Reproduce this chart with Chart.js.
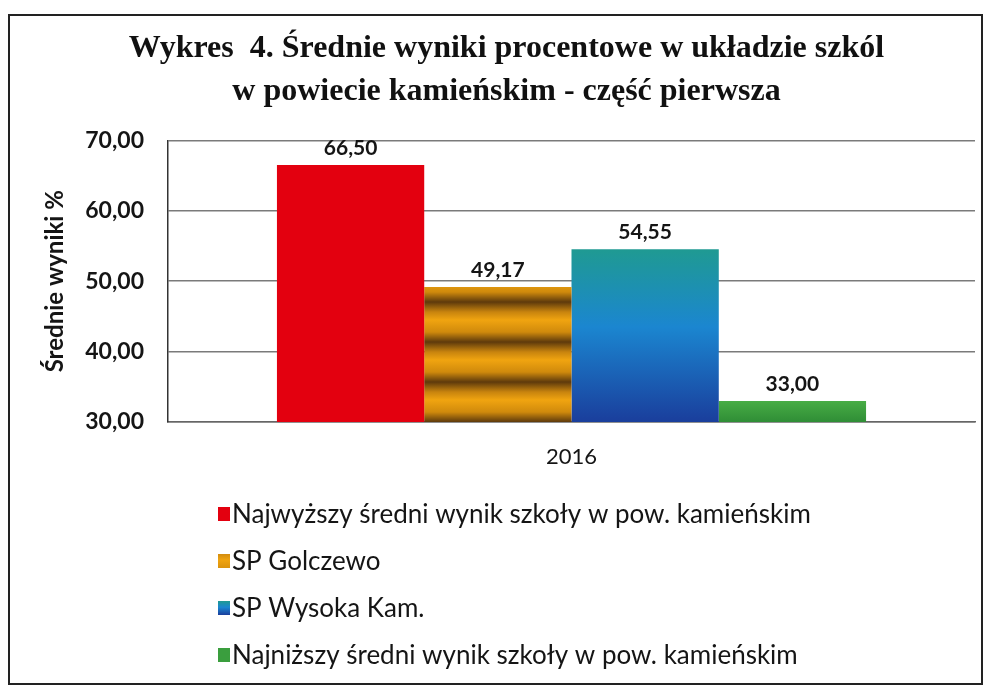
<!DOCTYPE html>
<html lang="pl">
<head>
<meta charset="utf-8">
<title>Wykres 4</title>
<script src="https://cdn.jsdelivr.net/npm/chart.js@4.4.1/dist/chart.umd.min.js"></script>
<style>
  html, body { margin: 0; padding: 0; background: #fff; }
  #wrap { position: relative; width: 993px; height: 691px; }
  #frame { position: absolute; left: 8px; top: 14px; width: 975px; height: 671px; border: 2px solid #222; box-sizing: border-box; pointer-events: none; }
  canvas { position: absolute; left: 0; top: 0; }
</style>
</head>
<body>
<div id="wrap">
  <canvas id="chart" width="993" height="691"></canvas>
  <div id="frame"></div>
</div>
<script>
// ── DATA ──
const categories = ['2016'];
const seriesNames = [
    'Najwyższy średni wynik szkoły w pow. kamieńskim',
    'SP Golczewo',
    'SP Wysoka Kam.',
    'Najniższy średni wynik szkoły w pow. kamieńskim'
];
const highestValues = [66.50];
const golczewoValues = [49.17];
const wysokaValues  = [54.55];
const lowestValues  = [33.00];
const yTicks = [30, 40, 50, 60, 70];

const fmt = v => v.toFixed(2).replace('.', ',');

// ── FILLS ──
function stripePattern() {
    const c = document.createElement('canvas');
    c.width = 8; c.height = 40;
    const g = c.getContext('2d');
    const grad = g.createLinearGradient(0, 0, 0, 40);
    grad.addColorStop(0, '#f0a410');
    grad.addColorStop(0.3, '#d08a0c');
    grad.addColorStop(0.55, '#5e3a0c');
    grad.addColorStop(0.8, '#c8840e');
    grad.addColorStop(1, '#f0a410');
    g.fillStyle = grad;
    g.fillRect(0, 0, 8, 40);
    return document.getElementById('chart').getContext('2d').createPattern(c, 'repeat');
}
const brownFill = stripePattern();

function blueGrad(ctx, top, bottom) {
    const grad = ctx.createLinearGradient(0, top, 0, bottom);
    grad.addColorStop(0, '#1f9a92');
    grad.addColorStop(0.45, '#1b86d0');
    grad.addColorStop(1, '#1a3e9c');
    return grad;
}

function blueFill(context) {
    const chart = context.chart;
    if (!chart.chartArea || !chart.scales.y) return '#1b86d0';
    const top = chart.scales.y.getPixelForValue(wysokaValues[0]);
    return blueGrad(chart.ctx, top, chart.chartArea.bottom);
}

function greenFill(context) {
    const chart = context.chart;
    if (!chart.chartArea || !chart.scales.y) return '#3a9e3e';
    const top = chart.scales.y.getPixelForValue(lowestValues[0]);
    const grad = chart.ctx.createLinearGradient(0, top, 0, chart.chartArea.bottom);
    grad.addColorStop(0, '#48ad45');
    grad.addColorStop(1, '#2f8d36');
    return grad;
}

// ── PLUGINS ──
const valueLabels = {
    id: 'valueLabels',
    afterDatasetsDraw(chart) {
        const ctx = chart.ctx;
        ctx.save();
        ctx.font = 'bold 21px Lato';
        ctx.fillStyle = '#151515';
        ctx.textAlign = 'center';
        ctx.textBaseline = 'bottom';
        chart.data.datasets.forEach((ds, i) => {
            chart.getDatasetMeta(i).data.forEach((bar, j) => {
                ctx.fillText(fmt(ds.data[j]), bar.x, bar.y - 6);
            });
        });
        ctx.restore();
    }
};

const sideLegend = {
    id: 'sideLegend',
    afterDraw(chart) {
        const ctx = chart.ctx;
        const x0 = 218, y0 = 514, step = 47;
        ctx.save();
        ctx.font = '26px Lato';
        ctx.textBaseline = 'middle';
        chart.data.datasets.forEach((ds, i) => {
            const y = y0 + i * step;
            let fill = ds.legendColor;
            if (i === 1) fill = brownFill;
            if (i === 2) fill = blueGrad(ctx, y - 7, y + 7);
            ctx.fillStyle = fill;
            ctx.fillRect(x0, y - 7, 12, 14);
            ctx.fillStyle = '#151515';
            ctx.fillText(ds.label, x0 + 14, y + 1);
        });
        ctx.restore();
    }
};

// ── CHART ──
new Chart(document.getElementById('chart'), {
    type: 'bar',
    data: {
        labels: categories,
        datasets: [
            { label: seriesNames[0], data: highestValues, backgroundColor: '#e3000f', legendColor: '#e3000f' },
            { label: seriesNames[1], data: golczewoValues, backgroundColor: brownFill },
            { label: seriesNames[2], data: wysokaValues, backgroundColor: blueFill },
            { label: seriesNames[3], data: lowestValues, backgroundColor: greenFill, legendColor: '#3a9e3e' }
        ]
    },
    options: {
        responsive: false,
        animation: false,
        layout: { padding: { left: 38, right: 18, top: 0, bottom: 199 } },
        datasets: { bar: { categoryPercentage: 0.73, barPercentage: 1, borderWidth: 0 } },
        plugins: {
            legend: { display: false },
            tooltip: { enabled: false },
            title: {
                display: true,
                text: ['Wykres  4. Średnie wyniki procentowe w układzie szkól', 'w powiecie kamieńskim - część pierwsza'],
                font: { family: 'Liberation Serif', size: 32, weight: 'bold', lineHeight: 1.35 },
                color: '#111',
                padding: { top: 27, bottom: 27 }
            }
        },
        scales: {
            x: {
                grid: { display: false, drawTicks: false },
                border: { display: true, color: '#666', width: 1.5 },
                ticks: { color: '#151515', font: { family: 'Lato', size: 22 }, padding: 22 },
                afterFit(scale) { scale.height = 70; }
            },
            y: {
                min: 30,
                max: 70,
                afterBuildTicks(scale) { scale.ticks = yTicks.map(v => ({ value: v })); },
                grid: { color: '#7a7a7a', lineWidth: 1.5, drawTicks: false },
                border: { display: true, color: '#333', width: 1.5 },
                ticks: {
                    color: '#151515',
                    font: { family: 'Lato', size: 23, weight: 'bold' },
                    padding: 24,
                    callback: v => fmt(v)
                },
                title: {
                    display: true,
                    text: 'Średnie wyniki %',
                    color: '#151515',
                    font: { family: 'Lato', size: 24, weight: 'bold', lineHeight: 1.2 },
                    padding: { top: 3, bottom: 0 }
                },
                afterFit(scale) { scale.width = 130; }
            }
        }
    },
    plugins: [valueLabels, sideLegend]
});
</script>
</body>
</html>
